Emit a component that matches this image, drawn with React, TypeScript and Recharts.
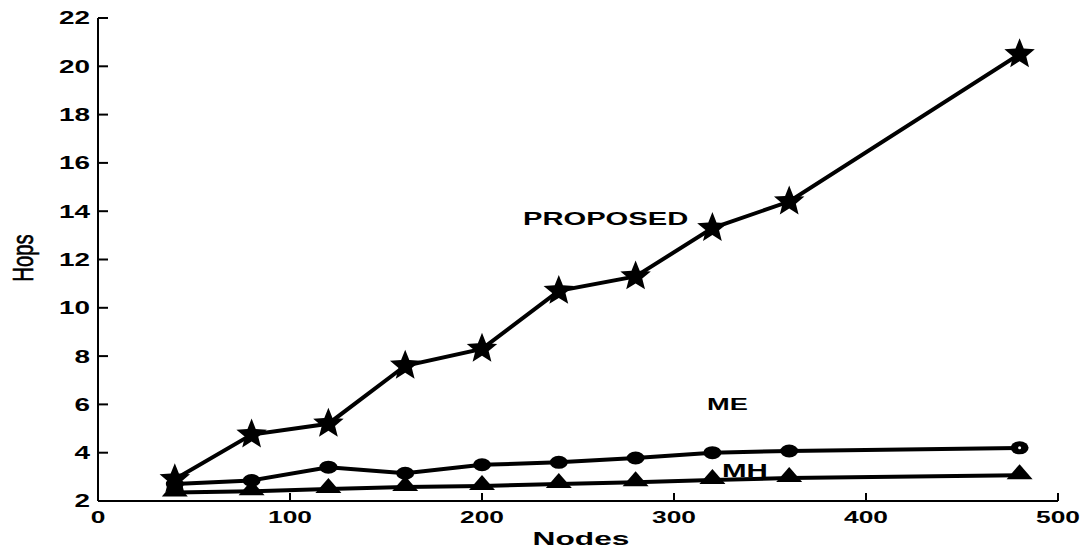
import React from 'react';
import { LineChart, Line, XAxis, YAxis } from 'recharts';

const nodes = [40, 80, 120, 160, 200, 240, 280, 320, 360, 480];
const proposed = [2.9, 4.75, 5.2, 7.6, 8.3, 10.7, 11.3, 13.3, 14.4, 20.5];
const me = [2.7, 2.85, 3.4, 3.15, 3.5, 3.6, 3.78, 4.0, 4.07, 4.2];
const mh = [2.35, 2.4, 2.5, 2.58, 2.62, 2.7, 2.78, 2.87, 2.95, 3.07];
const xTicks = [0, 100, 200, 300, 400, 500];
const yTicks = [2, 4, 6, 8, 10, 12, 14, 16, 18, 20, 22];

const data = nodes.map((n, i) => ({ x: n, proposed: proposed[i], me: me[i], mh: mh[i] }));

const FONT = '"Liberation Sans", Arial, Helvetica, sans-serif';

const starPoints = (cx: number, cy: number, R: number, r: number) => {
  const pts: string[] = [];
  for (let i = 0; i < 10; i++) {
    const a = -Math.PI / 2 + (i * Math.PI) / 5;
    const rad = i % 2 === 0 ? R : r;
    pts.push(`${cx + rad * Math.cos(a)},${cy + rad * Math.sin(a)}`);
  }
  return pts.join(' ');
};

const StarDot = (props: any) => {
  const { cx, cy, index } = props;
  if (cx == null || cy == null) return <g key={`s${index}`} />;
  return <polygon key={`s${index}`} points={starPoints(cx, cy, 16, 7)} fill="#000" />;
};

const CircleDot = (props: any) => {
  const { cx, cy, index } = props;
  if (cx == null || cy == null) return <g key={`c${index}`} />;
  return (
    <g key={`c${index}`}>
      <ellipse cx={cx} cy={cy} rx={9} ry={6.5} fill="#000" />
      {index === nodes.length - 1 ? <circle cx={cx} cy={cy} r={1.5} fill="#fff" /> : null}
    </g>
  );
};

const TriDot = (props: any) => {
  const { cx, cy, index } = props;
  if (cx == null || cy == null) return <g key={`t${index}`} />;
  return (
    <polygon
      key={`t${index}`}
      points={`${cx},${cy - 11} ${cx - 13},${cy + 4} ${cx + 13},${cy + 4}`}
      fill="#000"
    />
  );
};

const YTick = (props: any) => {
  const { x, y, payload } = props;
  return (
    <text
      transform={`translate(${x},${y}) scale(1.55,1)`}
      textAnchor="end"
      dy="0.36em"
      fontFamily={FONT}
      fontWeight="bold"
      fontSize={18}
      fill="#000"
      stroke="none"
    >
      {payload.value}
    </text>
  );
};

const XTick = (props: any) => {
  const { x, y, payload } = props;
  return (
    <text
      transform={`translate(${x},${y}) scale(1.55,1)`}
      textAnchor="middle"
      dy="0.71em"
      fontFamily={FONT}
      fontWeight="bold"
      fontSize={17}
      fill="#000"
      stroke="none"
    >
      {payload.value}
    </text>
  );
};

const Lbl = ({ x, y, sx, text, size = 18, anchor = 'start' }: any) => (
  <text
    transform={`translate(${x},${y}) scale(${sx},1)`}
    textAnchor={anchor}
    fontFamily={FONT}
    fontWeight="bold"
    fontSize={size}
    fill="#000"
  >
    {text}
  </text>
);

export default function App() {
  return (
    <div style={{ position: 'absolute', left: 0, top: 0, width: 1091, height: 550, background: '#fff' }}>
      <LineChart
        width={1091}
        height={550}
        data={data}
        margin={{ top: 18, right: 33, bottom: 0, left: 0 }}
      >
        <XAxis
          type="number"
          dataKey="x"
          domain={[0, 500]}
          ticks={xTicks}
          height={49}
          axisLine={{ stroke: '#000', strokeWidth: 2 }}
          tickLine={{ stroke: '#000', strokeWidth: 2 }}
          tickSize={-8}
          tickMargin={18}
          tick={<XTick />}
          interval={0}
        />
        <YAxis
          type="number"
          domain={[2, 22]}
          ticks={yTicks}
          width={98}
          axisLine={{ stroke: '#000', strokeWidth: 2 }}
          tickLine={{ stroke: '#000', strokeWidth: 2 }}
          tickSize={-10}
          tickMargin={18}
          tick={<YTick />}
          interval={0}
        />
        <Line dataKey="mh" stroke="#000" strokeWidth={4} dot={TriDot} isAnimationActive={false} />
        <Line dataKey="me" stroke="#000" strokeWidth={4} dot={CircleDot} isAnimationActive={false} />
        <Line dataKey="proposed" stroke="#000" strokeWidth={4} dot={StarDot} isAnimationActive={false} />
      </LineChart>
      <svg width={1091} height={550} style={{ position: 'absolute', left: 0, top: 0, pointerEvents: 'none' }}>
        <Lbl x={523} y={225} sx={1.62} text="PROPOSED" />
        <Lbl x={707} y={410} sx={1.6} text="ME" size={17} />
        <Lbl x={722} y={477} sx={1.64} text="MH" />
        <Lbl x={581} y={545} sx={1.76} text="Nodes" anchor="middle" />
        <text
          transform="translate(33,258) rotate(-90) scale(0.7,1)"
          textAnchor="middle"
          fontFamily={FONT}
          fontSize={29}
          fill="#000"
          stroke="#000"
          strokeWidth={0.6}
        >
          Hops
        </text>
      </svg>
    </div>
  );
}
